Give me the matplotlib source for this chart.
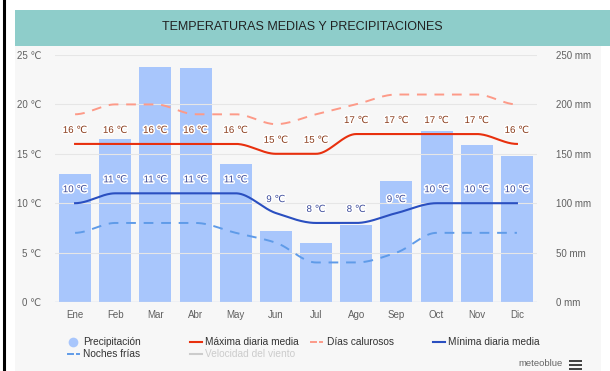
import numpy as np
import matplotlib
matplotlib.use("Agg")
import matplotlib.pyplot as plt
import matplotlib.patheffects as pe
from matplotlib.patches import Rectangle
from matplotlib.lines import Line2D

months = ["Ene", "Feb", "Mar", "Abr", "May", "Jun", "Jul", "Ago", "Sep", "Oct", "Nov", "Dic"]
precip_mm = [130, 165, 238, 237, 140, 72, 60, 78, 122, 173, 159, 148]
temp_max = [16, 16, 16, 16, 16, 15, 15, 17, 17, 17, 17, 16]
temp_min = [10, 11, 11, 11, 11, 9, 8, 8, 9, 10, 10, 10]
hot_days = [19, 20, 20, 19, 19, 18, 19, 20, 21, 21, 21, 20]
cold_nights = [7, 8, 8, 8, 7, 6, 4, 4, 5, 7, 7, 7]
temp_ticks = [0, 5, 10, 15, 20, 25]
precip_ticks = [0, 50, 100, 150, 200, 250]

FAMILY = ["Liberation Sans", "DejaVu Sans"]
plt.rcParams["font.family"] = FAMILY

W, H = 610, 371
fig = plt.figure(figsize=(W / 100, H / 100), dpi=100)
fig.patch.set_facecolor("white")


def fx(px):
    return px / W


def fy(py):
    return 1 - py / H


# panel background, border, and title band
fig.add_artist(Rectangle((fx(15), 0), fx(586), fy(46), transform=fig.transFigure,
                         facecolor="#f7f7f7", edgecolor="none", zorder=0))
fig.add_artist(Rectangle((fx(15), fy(46)), fx(595), (46 - 10) / H, transform=fig.transFigure,
                         facecolor="#8ecdca", edgecolor="none", zorder=1))
fig.add_artist(Line2D([fx(4), fx(4)], [0, 1], transform=fig.transFigure,
                      color="black", lw=2.2, zorder=2))
fig.text(fx(302.5), fy(27.5), "TEMPERATURAS MEDIAS Y PRECIPITACIONES", ha="center", va="center",
         fontsize=9.0, color="#222222")

ax = fig.add_axes([fx(55), fy(302), fx(537 - 55), (302 - 55) / H])
ax.set_facecolor("none")
x = np.arange(len(months))
ax.set_xlim(-0.5, 11.5)
ax.set_ylim(0, 25)

ax2 = ax.twinx()
ax2.set_ylim(0, 250)
ax2.bar(x, precip_mm, width=0.8, color="#a8c6fc", zorder=1)
ax.set_zorder(ax2.get_zorder() + 1)

for t in temp_ticks[1:]:
    ax.axhline(t, color="#e6e6e6", lw=0.8, zorder=0)
ax.axhline(0, color="#ccd6eb", lw=1.0, zorder=0)


def pchip(xs, ys, n=400):
    xs = np.asarray(xs, float)
    ys = np.asarray(ys, float)
    h = np.diff(xs)
    d = np.diff(ys) / h
    m = np.zeros_like(ys)
    for k in range(1, len(ys) - 1):
        if d[k - 1] * d[k] > 0:
            m[k] = 2 / (1 / d[k - 1] + 1 / d[k])
    xf = np.linspace(xs[0], xs[-1], n)
    yf = np.empty_like(xf)
    for i, xv in enumerate(xf):
        k = min(np.searchsorted(xs, xv, side="right") - 1, len(xs) - 2)
        t = (xv - xs[k]) / h[k]
        h00 = 2 * t**3 - 3 * t**2 + 1
        h10 = t**3 - 2 * t**2 + t
        h01 = -2 * t**3 + 3 * t**2
        h11 = t**3 - t**2
        yf[i] = h00 * ys[k] + h10 * h[k] * m[k] + h01 * ys[k + 1] + h11 * h[k] * m[k + 1]
    return xf, yf


c_max = "#e8300e"
c_hot = "#fd9a88"
c_min = "#2a4fc0"
c_cold = "#5f9be8"

xf, yf = pchip(x, hot_days)
ax.plot(xf, yf, color=c_hot, lw=1.4, dashes=(5, 4), zorder=3)
xf, yf = pchip(x, cold_nights)
ax.plot(xf, yf, color=c_cold, lw=1.4, dashes=(5, 4), zorder=3)
xf, yf = pchip(x, temp_max)
ax.plot(xf, yf, color=c_max, lw=1.5, zorder=4)
xf, yf = pchip(x, temp_min)
ax.plot(xf, yf, color=c_min, lw=1.5, zorder=4)

halo = [pe.withStroke(linewidth=2.2, foreground="white")]
for xi, v in zip(x, temp_max):
    ax.annotate(f"{v} ℃", (xi, v), xytext=(0, 6.5), textcoords="offset points",
                ha="center", va="bottom", fontsize=7, color="#8a3b1a",
                path_effects=halo, zorder=6)
for xi, v in zip(x, temp_min):
    ax.annotate(f"{v} ℃", (xi, v), xytext=(0, 6.5), textcoords="offset points",
                ha="center", va="bottom", fontsize=7, color="#3b4a9a",
                path_effects=halo, zorder=6)

ax.set_xticks(x)
ax.set_xticklabels(months)
ax.set_yticks(temp_ticks)
ax.set_yticklabels([f"{t} ℃" for t in temp_ticks])
ax2.set_yticks(precip_ticks)
ax2.set_yticklabels([f"{t} mm" for t in precip_ticks])
for a in (ax, ax2):
    for s in a.spines.values():
        s.set_visible(False)
ax.tick_params(axis="x", length=0, pad=6, labelsize=7, labelcolor="#606060")
ax.tick_params(axis="y", length=0, pad=10, labelsize=7, labelcolor="#606060")
ax2.tick_params(axis="y", length=0, pad=14, labelsize=7, labelcolor="#606060")

# legend
ly1, ly2 = fy(342), fy(354)
fs = 7.3
fig.add_artist(Line2D([fx(73)], [ly1], transform=fig.transFigure, marker="o", markersize=7,
                      markerfacecolor="#a8c6fc", markeredgecolor="none", linestyle="none"))
fig.text(fx(83), ly1, "Precipitación", va="center", fontsize=fs, color="#333333")


def leg_line(x0, y, color, dashed=False):
    if dashed:
        fig.add_artist(Line2D([fx(x0), fx(x0 + 5)], [y, y], transform=fig.transFigure, color=color, lw=1.4))
        fig.add_artist(Line2D([fx(x0 + 9), fx(x0 + 11)], [y, y], transform=fig.transFigure, color=color, lw=1.4))
    else:
        fig.add_artist(Line2D([fx(x0), fx(x0 + 12)], [y, y], transform=fig.transFigure, color=color, lw=1.5))


leg_line(190, ly1, c_max)
fig.text(fx(205), ly1, "Máxima diaria media", va="center", fontsize=fs, color="#333333")
leg_line(311, ly1, c_hot, dashed=True)
fig.text(fx(327), ly1, "Días calurosos", va="center", fontsize=fs, color="#333333")
leg_line(433, ly1, c_min)
fig.text(fx(448), ly1, "Mínima diaria media", va="center", fontsize=fs, color="#333333")
leg_line(68, ly2, c_cold, dashed=True)
fig.text(fx(83), ly2, "Noches frías", va="center", fontsize=fs, color="#333333")
leg_line(190, ly2, "#cccccc")
fig.text(fx(205), ly2, "Velocidad del viento", va="center", fontsize=fs, color="#cccccc")

fig.text(fx(563), fy(364), "meteoblue", ha="right", va="center", fontsize=6.8, color="#666666")
for dy in (361, 365, 369):
    fig.add_artist(Rectangle((fx(569), fy(dy + 1)), fx(13), 2.2 / H, transform=fig.transFigure,
                             facecolor="#444444", edgecolor="none"))

fig.savefig("out.png", dpi=100)
